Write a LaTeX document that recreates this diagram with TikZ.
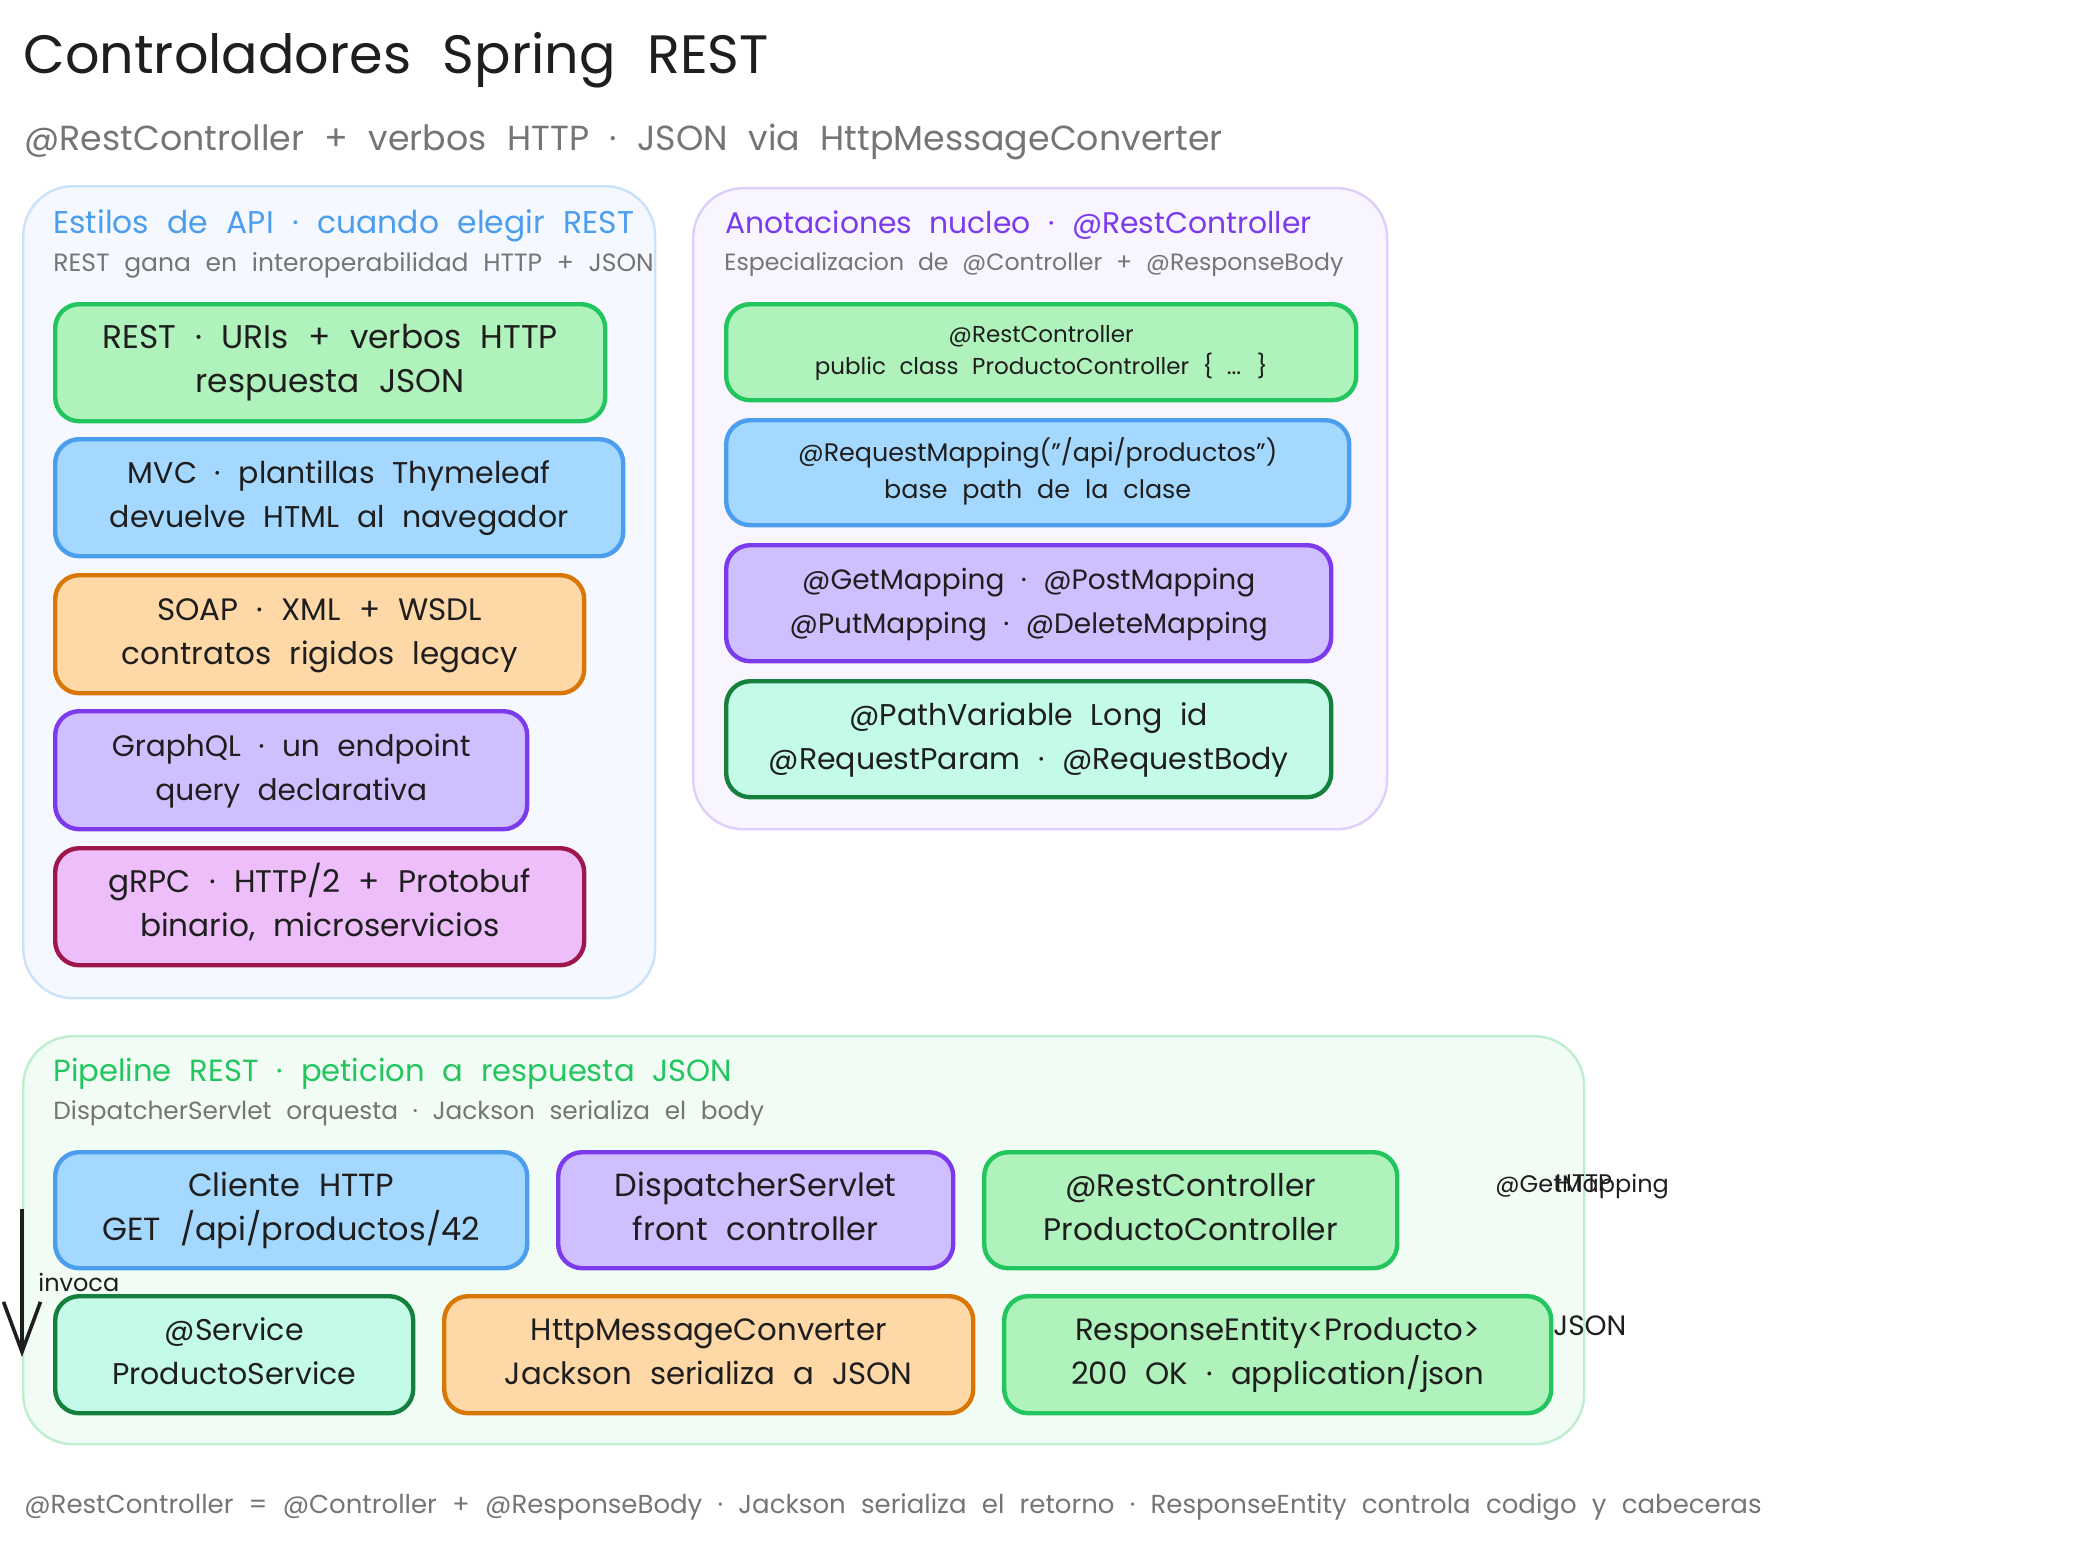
\documentclass[tikz,border=0pt]{standalone}
\usepackage{fontspec}
\setmainfont[WordSpace=2.2]{Poppins}
\usetikzlibrary{arrows.meta}
\definecolor{ink}{HTML}{1E1E1E}
\definecolor{muted}{HTML}{757575}
\definecolor{greenS}{HTML}{22C55E}
\definecolor{greenF}{HTML}{B0F2BB}
\definecolor{blueS}{HTML}{4A9EED}
\definecolor{blueF}{HTML}{A5D8FF}
\definecolor{orangeS}{HTML}{D97706}
\definecolor{orangeF}{HTML}{FFD8A8}
\definecolor{purpleS}{HTML}{7C3AED}
\definecolor{purpleF}{HTML}{D0BFFF}
\definecolor{tealS}{HTML}{15803D}
\definecolor{tealF}{HTML}{C3FAE8}
\definecolor{pinkS}{HTML}{9D174D}
\definecolor{pinkF}{HTML}{EEBEFA}
\definecolor{panelB}{HTML}{F5F8FF}
\definecolor{panelP}{HTML}{F8F5FF}
\definecolor{panelG}{HTML}{F1FCF5}

\begin{document}
\begin{tikzpicture}[x=0.5pt, y=-0.5pt, font=\fontsize{15}{22}\selectfont, text=ink]
  \tikzstyle{panel}=[draw, line width=1.2pt, rounded corners=25pt, inner sep=0pt, anchor=north west]
  \tikzstyle{box}=[draw, line width=2.2pt, rounded corners=12pt, inner sep=0pt, align=center, anchor=north west,
                   text height=37pt, text depth=7pt]
  \tikzstyle{flat}=[inner sep=0pt, anchor=west]
  \tikzstyle{note}=[flat, text=muted]
  \tikzstyle{small}=[flat, font=\fontsize{12}{14}\selectfont]
  \tikzstyle{greenbox}=[box, draw=greenS, fill=greenF]
  \tikzstyle{bluebox}=[box, draw=blueS, fill=blueF]
  \tikzstyle{orangebox}=[box, draw=orangeS, fill=orangeF]
  \tikzstyle{purplebox}=[box, draw=purpleS, fill=purpleF]
  \tikzstyle{tealbox}=[box, draw=tealS, fill=tealF]
  \tikzstyle{pinkbox}=[box, draw=pinkS, fill=pinkF]
  \tikzstyle{flow}=[draw, ink, line width=1.8pt, -{Straight Barb[length=25pt, width=18.5pt]}]

  % constants
  \def \PX {0.5pt}

  \useasboundingbox (0,0) rectangle (2075,1543);

  % panels
  \node[panel, draw=blueS!30, fill=panelB, minimum width=632*\PX, minimum height=812*\PX] (estilos) at (22,185) {};
  \node[panel, draw=purpleS!25, fill=panelP, minimum width=694*\PX, minimum height=641*\PX] (anotaciones) at (692,187) {};
  \node[panel, draw=greenS!30, fill=panelG, minimum width=1561*\PX, minimum height=408*\PX] (pipeline) at (22,1035) {};

  % titles
  \node[flat, font=\fontsize{27}{30}\selectfont] (titulo) at (23,60) {Controladores Spring REST};
  \node[note, font=\fontsize{17.4}{22}\selectfont] (subtitulo) at (24,142) {@RestController + verbos HTTP · JSON via HttpMessageConverter};
  \node[flat, text=blueS, font=\fontsize{15.7}{18}\selectfont] (estilosH) at (53,226) {Estilos de API · cuando elegir REST};
  \node[note, font=\fontsize{12.5}{15}\selectfont] (estilosN) at (53,265) {REST gana en interoperabilidad HTTP + JSON};
  \node[flat, text=purpleS, font=\fontsize{14.9}{18}\selectfont] (anotacionesH) at (725,225) {Anotaciones nucleo · @RestController};
  \node[note, font=\fontsize{11.8}{15}\selectfont] (anotacionesN) at (724,265) {Especializacion de @Controller + @ResponseBody};
  \node[flat, text=greenS, font=\fontsize{15.3}{18}\selectfont] (pipelineH) at (53,1074) {Pipeline REST · peticion a respuesta JSON};
  \node[note, font=\fontsize{12.4}{15}\selectfont] (pipelineN) at (53,1113) {DispatcherServlet orquesta · Jackson serializa el body};
  \node[note, font=\fontsize{13}{15}\selectfont] (pie) at (24,1507) {@RestController = @Controller + @ResponseBody · Jackson serializa el retorno · ResponseEntity controla codigo y cabeceras};

  % boxes
  \foreach \name/\sty/\x/\y/\w/\h/\fs/\txt in
    {
      rest/greenbox/53/302/550/117/16.4/{REST · URIs + verbos HTTP\\respuesta JSON},
      mvc/bluebox/53/437/568/117/15/{MVC · plantillas Thymeleaf\\devuelve HTML al navegador},
      soap/orangebox/53/573/529/118/15.5/{SOAP · XML + WSDL\\contratos rigidos legacy},
      graphql/purplebox/53/709/472/118/14.8/{GraphQL · un endpoint\\query declarativa},
      grpc/pinkbox/53/846/529/117/15.6/{gRPC · HTTP/2 + Protobuf\\binario, microservicios},
      getmap/purplebox/724/543/605/116/14/{@GetMapping · @PostMapping\\@PutMapping · @DeleteMapping},
      pathvar/tealbox/724/679/605/116/15/{@PathVariable Long id\\@RequestParam · @RequestBody},
      cliente/bluebox/53/1150/472/116/16/{Cliente HTTP\\GET /api/productos/42},
      dispatcher/purplebox/556/1150/395/116/16/{DispatcherServlet\\front controller},
      controller/greenbox/982/1150/413/116/15.6/{@RestController\\ProductoController},
      service/tealbox/53/1294/358/117/15/{@Service\\ProductoService},
      converter/orangebox/442/1294/529/117/15.4/{HttpMessageConverter\\Jackson serializa a JSON},
      entity/greenbox/1002/1294/547/117/15.4/{ResponseEntity<Producto>\\200 OK · application/json}%
    }
    \node[\sty, minimum width=\w*\PX, minimum height=\h*\PX, font=\fontsize{\fs}{22}\selectfont] (\name) at (\x,\y) {\txt};

  \node[greenbox, minimum width=630*\PX, minimum height=96*\PX, text height=27pt, text depth=5pt, font=\fontsize{11.5}{16}\selectfont] (restctl) at (724,302) {@RestController\\public class ProductoController \{ ... \}};
  \node[bluebox, minimum width=623*\PX, minimum height=105*\PX, text height=31pt, text depth=5.5pt, font=\fontsize{12.7}{18.5}\selectfont] (reqmap) at (724,418) {@RequestMapping("/api/productos")\\base path de la clase};

  % edge labels
  \node[small] (invoca) at (38,1282) {invoca};
  \node[small] (getlabel) at (1495,1187) {@GetMapping};
  \node[small] (httplabel) at (1555,1183) {HTTP};
  \node[small, font=\fontsize{14}{16}\selectfont] (jsonlabel) at (1553,1326) {JSON};

  % arrow
  \coordinate (flowA) at (22,1209);
  \coordinate (flowB) at (22,1357);
  \path[flow] (flowA) -- (flowB);

\end{tikzpicture}
\end{document}
